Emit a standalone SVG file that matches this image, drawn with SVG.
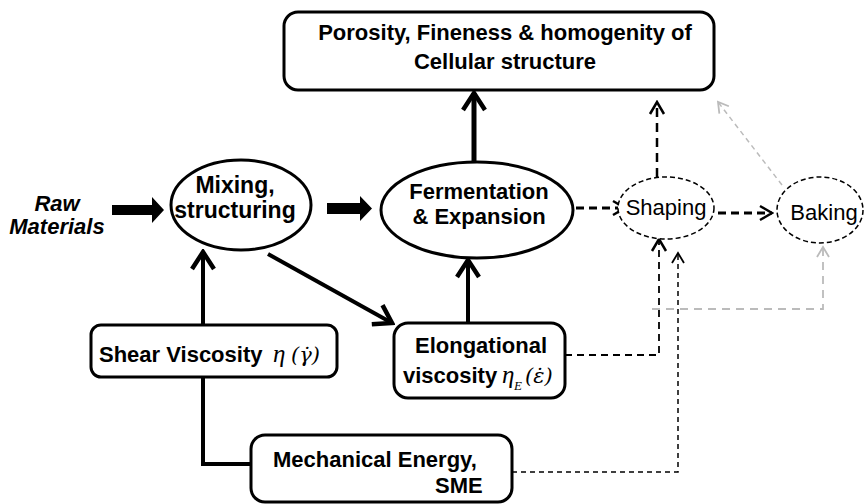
<svg xmlns="http://www.w3.org/2000/svg" width="865" height="504" viewBox="0 0 865 504">
<style>
.box{fill:#fff;stroke:#000;stroke-width:3}
.ell{fill:#fff;stroke:#000;stroke-width:3}
.dell{fill:#fff;stroke:#000;stroke-width:1.5;stroke-dasharray:5 3}
.b{font-family:"Liberation Sans",Arial,sans-serif;font-weight:bold;font-size:22px;fill:#000}
.bi{font-family:"Liberation Sans",Arial,sans-serif;font-weight:bold;font-style:italic;font-size:22px;fill:#000}
.r{font-family:"Liberation Sans",Arial,sans-serif;font-size:22px;fill:#000}
.m{font-family:"Liberation Serif","Times New Roman",serif;font-style:italic;font-weight:normal;font-size:25px}
.md{font-family:"DejaVu Serif",serif;font-style:italic;font-weight:normal;font-size:21px}
.c{text-anchor:middle}
.sol{fill:none;stroke:#000;stroke-width:4}
.d1{fill:none;stroke:#000;stroke-width:3;stroke-dasharray:8 5}
.d2{fill:none;stroke:#000;stroke-width:1.8;stroke-dasharray:7 5}
.d3{fill:none;stroke:#000;stroke-width:1.5;stroke-dasharray:5 4}
.g1{fill:none;stroke:#bbb;stroke-width:1.8;stroke-dasharray:8 6}
.g2{fill:none;stroke:#bbb;stroke-width:1.5;stroke-dasharray:5 4}
</style>
<defs>
<marker id="as" viewBox="0 0 22 26" refX="19" refY="13" markerWidth="22" markerHeight="26" markerUnits="userSpaceOnUse" orient="auto"><path d="M2,2 L19,13 L2,24" fill="none" stroke="#000" stroke-width="4.5"/></marker>
<marker id="ad" viewBox="0 0 16 18" refX="14" refY="9" markerWidth="16" markerHeight="18" markerUnits="userSpaceOnUse" orient="auto"><path d="M2,2 L14,9 L2,16" fill="none" stroke="#000" stroke-width="2.5"/></marker>
<marker id="at" viewBox="0 0 14 16" refX="12" refY="8" markerWidth="14" markerHeight="16" markerUnits="userSpaceOnUse" orient="auto"><path d="M2,2 L12,8 L2,14" fill="none" stroke="#000" stroke-width="1.8"/></marker>
<marker id="ag" viewBox="0 0 14 16" refX="12" refY="8" markerWidth="14" markerHeight="16" markerUnits="userSpaceOnUse" orient="auto"><path d="M2,2 L12,8 L2,14" fill="none" stroke="#bbb" stroke-width="1.8"/></marker>
</defs>

<g id="connectors">
  <polygon points="112,205 152,205 152,197 164,210 152,223 152,215 112,215" fill="#000"/>
  <polygon points="327,203 360,203 360,196 372,208.5 360,221 360,214 327,214" fill="#000"/>
  <line x1="474" y1="162" x2="474" y2="93" class="sol" style="stroke-width:5" marker-end="url(#as)"/>
  <line x1="468" y1="323" x2="468" y2="260" class="sol" marker-end="url(#as)"/>
  <line x1="203" y1="325" x2="203" y2="252" class="sol" marker-end="url(#as)"/>
  <line x1="268" y1="254" x2="392" y2="323" class="sol" marker-end="url(#as)"/>
  <polyline points="251,464 203,464 203,377" class="sol"/>
  <line x1="576" y1="208" x2="625" y2="208" class="d1" marker-end="url(#ad)"/>
  <line x1="718" y1="213" x2="772" y2="213" class="d1" marker-end="url(#ad)"/>
  <line x1="657" y1="177" x2="657" y2="102" class="d1" style="stroke-width:2.5;stroke-dasharray:9 6" marker-end="url(#ad)"/>
  <polyline points="565,355 659,355 659,239" class="d2" marker-end="url(#ad)"/>
  <polyline points="512,472 678,472 678,253" class="d3" marker-end="url(#at)"/>
  <polyline points="652,309 823,309 823,247" class="g1" marker-end="url(#ag)"/>
  <line x1="782" y1="185" x2="718" y2="102" class="g2" marker-end="url(#ag)"/>
</g>

<g id="cellular">
  <rect x="284" y="12" width="430" height="78" rx="14" class="box"/>
  <text x="505" y="40" class="b c">Porosity, Fineness &amp; homogenity of</text>
  <text x="505" y="69" class="b c">Cellular structure</text>
</g>

<g id="raw">
  <text x="57" y="211" class="bi c">Raw</text>
  <text x="57" y="234" class="bi c">Materials</text>
</g>

<g id="mixing">
  <ellipse cx="241" cy="205" rx="70" ry="45" class="ell"/>
  <text x="235" y="193" class="b c" style="font-size:23px">Mixing,</text>
  <text x="235" y="218" class="b c" style="font-size:23px">structuring</text>
</g>

<g id="fermentation">
  <ellipse cx="477" cy="210" rx="96" ry="48" class="ell"/>
  <text x="479" y="199" class="b c">Fermentation</text>
  <text x="479" y="224" class="b c">&amp; Expansion</text>
</g>

<g id="shaping">
  <ellipse cx="666" cy="208" rx="48" ry="31" class="dell"/>
  <text x="666" y="215" class="r c">Shaping</text>
</g>

<g id="baking">
  <ellipse cx="820" cy="210" rx="43" ry="33" class="dell"/>
  <text x="824" y="220" class="r c">Baking</text>
</g>

<g id="shear">
  <rect x="91" y="325" width="246" height="52" rx="10" class="box"/>
  <text x="99" y="362" class="b">Shear Viscosity <tspan class="m" x="273">η</tspan><tspan class="md" x="291">(γ̇)</tspan></text>
</g>

<g id="elongational">
  <rect x="394" y="323" width="171" height="75" rx="14" class="box"/>
  <text x="481" y="353" class="b c">Elongational</text>
  <text x="403" y="383" class="b">viscosity <tspan class="m" x="502">η</tspan><tspan class="m" x="514" y="390" style="font-size:13px">E</tspan><tspan class="md" x="525" y="383">(ε̇)</tspan></text>
</g>

<g id="mechanical">
  <rect x="251" y="435" width="261" height="67" rx="14" class="box"/>
  <text x="273" y="467" class="b">Mechanical Energy,</text>
  <text x="435" y="493" class="b">SME</text>
</g>
</svg>
